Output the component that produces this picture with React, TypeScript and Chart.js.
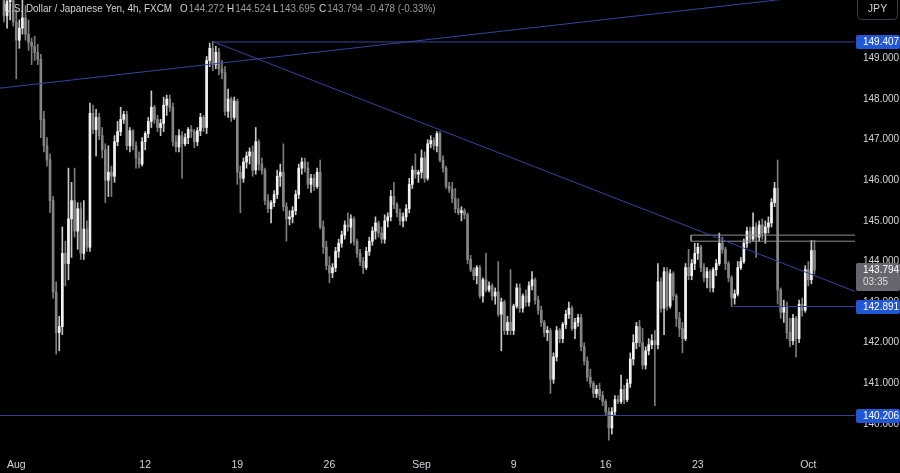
import React, { useEffect, useRef } from "react";
import { Chart, registerables } from "chart.js";
Chart.register(...registerables);

// ---- data ----
// [open, high, low, close] per 4h candle, USD/JPY (FXCM), Jul 31 -> Oct 1
const candles: [number, number, number, number][] = [
  [150.70, 150.95, 149.90, 150.05], [150.05, 150.60, 149.75, 150.40], [150.40, 150.90, 149.95, 150.55], [150.55, 150.80, 149.80, 149.90],
  [149.90, 150.20, 148.50, 149.45], [149.45, 149.95, 149.25, 149.75], [149.75, 150.45, 149.60, 150.00], [150.00, 150.30, 149.45, 149.60],
  [149.60, 149.95, 149.20, 149.40], [149.40, 149.50, 148.85, 149.30], [149.30, 149.55, 148.95, 149.15], [149.15, 149.35, 148.85, 148.98],
  [148.98, 149.10, 147.05, 147.50], [147.50, 147.70, 146.70, 146.85], [146.85, 147.05, 146.35, 146.50], [146.50, 146.65, 145.20, 145.50],
  [145.50, 145.60, 143.10, 143.25], [143.25, 143.50, 141.72, 142.25], [142.25, 142.65, 141.80, 142.40], [142.40, 144.85, 142.20, 144.20],
  [144.20, 144.50, 143.40, 143.95], [143.95, 146.30, 143.55, 145.05], [145.05, 145.95, 144.10, 145.50], [145.50, 146.30, 144.60, 144.75],
  [144.75, 145.45, 144.30, 145.30], [145.30, 145.45, 144.05, 144.20], [144.20, 145.50, 144.05, 144.80], [144.80, 145.00, 144.25, 144.35],
  [144.35, 147.90, 144.25, 147.65], [147.65, 147.85, 147.15, 147.25], [147.25, 147.75, 146.60, 147.55], [147.55, 147.65, 147.00, 147.10],
  [147.10, 147.30, 146.55, 146.75], [146.75, 146.90, 145.45, 146.00], [146.00, 146.85, 145.60, 146.20], [146.20, 146.35, 145.60, 146.10],
  [146.10, 147.10, 145.95, 146.95], [146.95, 147.45, 146.85, 147.20], [147.20, 147.80, 147.10, 147.50], [147.50, 147.70, 147.40, 147.62],
  [147.62, 147.70, 146.75, 146.85], [146.85, 147.30, 146.70, 147.22], [147.22, 147.25, 146.75, 146.85], [146.85, 146.95, 146.30, 146.55],
  [146.55, 146.70, 146.30, 146.40], [146.40, 147.05, 146.35, 146.95], [146.95, 147.20, 146.75, 147.15], [147.15, 147.55, 147.05, 147.45],
  [147.45, 148.20, 147.30, 147.80], [147.80, 147.85, 147.40, 147.50], [147.50, 147.60, 147.20, 147.30], [147.30, 147.50, 147.10, 147.40],
  [147.40, 148.05, 147.20, 147.85], [147.85, 148.10, 147.60, 148.00], [148.00, 148.10, 147.70, 147.80], [147.80, 147.90, 146.85, 146.95],
  [146.95, 147.10, 146.70, 146.82], [146.82, 147.25, 146.70, 147.10], [147.10, 147.20, 146.05, 146.90], [146.90, 147.15, 146.85, 147.05],
  [147.05, 147.30, 146.90, 147.25], [147.25, 147.35, 147.05, 147.20], [147.20, 147.25, 146.80, 146.95], [146.95, 147.30, 146.85, 147.22],
  [147.22, 147.65, 147.10, 147.55], [147.55, 147.60, 147.20, 147.30], [147.30, 149.05, 147.15, 148.95], [148.95, 149.38, 148.80, 149.25],
  [149.25, 149.42, 148.70, 148.85], [148.85, 149.30, 148.75, 149.15], [149.15, 149.25, 148.60, 148.75], [148.75, 148.95, 148.50, 148.65],
  [148.65, 148.80, 147.60, 147.70], [147.70, 148.25, 147.55, 148.00], [148.00, 148.05, 147.45, 147.55], [147.55, 148.05, 147.50, 147.95],
  [147.95, 148.00, 145.90, 146.20], [146.20, 146.35, 145.20, 146.05], [146.05, 146.55, 145.95, 146.45], [146.45, 146.70, 146.30, 146.60],
  [146.60, 146.80, 146.40, 146.70], [146.70, 146.85, 146.10, 146.25], [146.25, 147.30, 146.15, 146.95], [146.95, 147.00, 146.25, 146.40],
  [146.40, 146.55, 146.15, 146.25], [146.25, 146.30, 145.40, 145.50], [145.50, 145.65, 145.20, 145.30], [145.30, 145.50, 144.95, 145.45],
  [145.45, 145.75, 145.35, 145.65], [145.65, 146.25, 145.55, 146.10], [146.10, 146.40, 145.85, 146.20], [146.20, 146.90, 145.25, 145.35],
  [145.35, 145.45, 144.50, 145.05], [145.05, 145.25, 144.90, 145.10], [145.10, 145.35, 144.95, 145.25], [145.25, 145.75, 145.15, 145.65],
  [145.65, 146.40, 145.55, 146.30], [146.30, 146.55, 146.15, 146.45], [146.45, 146.55, 146.20, 146.30], [146.30, 146.45, 145.80, 145.90],
  [145.90, 146.15, 145.70, 146.05], [146.05, 146.15, 145.75, 145.85], [145.85, 146.30, 145.80, 146.20], [146.20, 146.50, 144.80, 144.85],
  [144.85, 145.00, 144.20, 144.35], [144.35, 144.50, 143.80, 143.90], [143.90, 144.12, 143.48, 143.72], [143.72, 143.95, 143.60, 143.85],
  [143.85, 144.35, 143.75, 144.25], [144.25, 144.55, 144.10, 144.45], [144.45, 144.75, 144.35, 144.65], [144.65, 145.00, 144.55, 144.90],
  [144.90, 145.20, 144.75, 144.85], [144.85, 145.15, 144.45, 145.05], [145.05, 145.10, 144.40, 144.50], [144.50, 144.55, 144.10, 144.20],
  [144.20, 144.30, 143.90, 144.00], [144.00, 144.10, 143.70, 143.85], [143.85, 144.35, 143.80, 144.25], [144.25, 144.60, 144.15, 144.50],
  [144.50, 144.85, 144.40, 144.75], [144.75, 145.10, 144.55, 144.95], [144.95, 145.00, 144.60, 144.70], [144.70, 144.85, 144.45, 144.55],
  [144.55, 145.15, 144.45, 145.00], [145.00, 145.20, 144.85, 145.10], [145.10, 145.75, 145.00, 145.60], [145.60, 145.95, 145.30, 145.40],
  [145.40, 145.45, 145.10, 145.20], [145.20, 145.30, 144.90, 145.00], [145.00, 145.20, 144.85, 145.10], [145.10, 145.40, 145.00, 145.30],
  [145.30, 146.05, 145.20, 145.90], [145.90, 146.35, 145.80, 146.25], [146.25, 146.65, 146.05, 146.15], [146.15, 146.25, 145.95, 146.20],
  [146.20, 146.75, 146.05, 146.55], [146.55, 146.70, 145.95, 146.05], [146.05, 147.00, 146.00, 146.90], [146.90, 147.10, 146.80, 146.98],
  [146.98, 147.05, 146.75, 146.85], [146.85, 147.20, 146.70, 147.15], [147.15, 147.20, 146.45, 146.50], [146.50, 146.60, 146.20, 146.30],
  [146.30, 146.35, 145.80, 145.85], [145.85, 145.95, 145.70, 145.78], [145.78, 145.95, 145.45, 145.55], [145.55, 145.80, 145.20, 145.30],
  [145.30, 145.55, 145.15, 145.20], [145.20, 145.35, 145.00, 145.25], [145.25, 145.30, 145.05, 145.15], [145.15, 145.20, 143.95, 144.05],
  [144.05, 144.15, 143.75, 143.80], [143.80, 143.85, 143.55, 143.65], [143.65, 143.90, 143.45, 143.85], [143.85, 143.90, 143.10, 143.15],
  [143.15, 143.60, 143.00, 143.55], [143.55, 144.20, 143.25, 143.30], [143.30, 143.50, 143.25, 143.40], [143.40, 143.45, 143.05, 143.15],
  [143.15, 143.35, 142.95, 143.25], [143.25, 144.00, 142.65, 142.70], [142.70, 143.10, 141.80, 143.00], [143.00, 143.05, 142.20, 142.30],
  [142.30, 142.65, 142.20, 142.50], [142.50, 143.80, 142.20, 142.30], [142.30, 142.95, 142.20, 142.90], [142.90, 143.45, 142.85, 143.35],
  [143.35, 143.45, 142.75, 142.85], [142.85, 143.20, 142.75, 143.15], [143.15, 143.30, 142.90, 143.00], [143.00, 143.50, 142.90, 143.40],
  [143.40, 143.75, 143.30, 143.55], [143.55, 143.60, 142.95, 143.05], [143.05, 143.15, 142.70, 142.80], [142.80, 142.90, 142.40, 142.50],
  [142.50, 142.55, 142.15, 142.25], [142.25, 142.40, 142.05, 142.30], [142.30, 142.35, 140.75, 141.10], [141.10, 141.75, 141.00, 141.65],
  [141.65, 142.40, 141.55, 142.30], [142.30, 142.35, 142.00, 142.10], [142.10, 142.50, 142.00, 142.45], [142.45, 142.80, 142.35, 142.70],
  [142.70, 143.00, 142.60, 142.85], [142.85, 142.90, 142.30, 142.35], [142.35, 142.60, 142.10, 142.50], [142.50, 142.70, 142.40, 142.62],
  [142.62, 142.70, 141.80, 141.90], [141.90, 142.00, 141.45, 141.55], [141.55, 141.65, 141.05, 141.15], [141.15, 141.35, 140.90, 141.00],
  [141.00, 141.05, 140.65, 140.75], [140.75, 140.95, 140.65, 140.85], [140.85, 141.00, 140.60, 140.70], [140.70, 140.80, 140.45, 140.55],
  [140.55, 140.60, 140.20, 140.30], [140.30, 140.40, 139.60, 139.90], [139.90, 140.40, 139.75, 140.30], [140.30, 140.70, 140.20, 140.60],
  [140.60, 140.70, 140.50, 140.55], [140.55, 141.20, 140.50, 140.85], [140.85, 140.95, 140.50, 140.60], [140.60, 141.10, 140.55, 141.00],
  [141.00, 141.75, 140.90, 141.60], [141.60, 142.20, 141.45, 142.00], [142.00, 142.50, 141.85, 142.40], [142.40, 142.55, 141.90, 142.00],
  [142.00, 142.35, 141.35, 141.45], [141.45, 141.90, 141.35, 141.80], [141.80, 142.10, 141.70, 141.95], [141.95, 142.20, 141.85, 142.05],
  [142.05, 142.30, 140.45, 141.95], [141.95, 143.95, 141.85, 143.50], [143.50, 143.60, 142.75, 142.85], [142.85, 143.85, 142.20, 143.75],
  [143.75, 143.85, 142.80, 142.90], [142.90, 143.80, 142.85, 143.70], [143.70, 143.75, 143.05, 143.15], [143.15, 143.20, 142.40, 142.60],
  [142.60, 142.75, 142.15, 142.35], [142.35, 142.50, 141.75, 142.10], [142.10, 143.95, 142.05, 143.85], [143.85, 144.30, 143.55, 143.65],
  [143.65, 144.05, 143.55, 143.95], [143.95, 144.45, 143.80, 144.20], [144.20, 144.45, 144.05, 144.35], [144.35, 144.40, 143.75, 143.85],
  [143.85, 143.95, 143.50, 143.60], [143.60, 143.85, 143.35, 143.75], [143.75, 143.80, 143.25, 143.35], [143.35, 143.85, 143.25, 143.80],
  [143.80, 144.05, 143.65, 143.95], [143.95, 144.70, 143.90, 144.45], [144.45, 144.60, 144.20, 144.30], [144.30, 144.35, 143.80, 143.95],
  [143.95, 144.00, 143.50, 143.60], [143.60, 143.65, 142.89, 143.10], [143.10, 143.30, 142.95, 143.20], [143.20, 144.00, 143.15, 143.85],
  [143.85, 144.10, 143.80, 144.00], [144.00, 144.55, 143.95, 144.45], [144.45, 144.85, 144.35, 144.75], [144.75, 144.85, 144.45, 144.55],
  [144.55, 145.20, 144.50, 144.85], [144.85, 144.95, 144.10, 144.60], [144.60, 145.00, 144.50, 144.90], [144.90, 145.05, 144.55, 144.70],
  [144.70, 145.00, 144.45, 144.85], [144.85, 145.10, 144.70, 144.95], [144.95, 145.55, 144.85, 145.45], [145.45, 145.95, 145.35, 145.80],
  [145.80, 146.50, 142.95, 143.30], [143.30, 143.35, 142.60, 142.75], [142.75, 143.05, 142.50, 142.90], [142.90, 143.00, 142.10, 142.25],
  [142.25, 142.60, 141.90, 142.05], [142.05, 142.70, 141.95, 142.60], [142.60, 142.65, 141.65, 142.10], [142.10, 143.05, 142.00, 142.95],
  [142.95, 143.10, 142.65, 142.80], [142.80, 143.90, 142.75, 143.80], [143.80, 144.00, 143.40, 143.55], [143.55, 144.52, 143.45, 144.27],
  [144.272, 144.524, 143.695, 143.794],
];

const dateTickIndex = [4, 46, 76, 106, 136, 166, 196, 226, 262];
const dateTickLabels = ["Aug", "12", "19", "26", "Sep", "9", "16", "23", "Oct"];
const priceTicks = [140, 141, 142, 143, 144, 145, 146, 147, 148, 149];

const resistanceLevel = 149.407;
const supportLevel = 140.206;
const swingLowLevel = 142.891;
const zoneTop = 144.65;
const zoneBottom = 144.5;
const lastPrice = 143.794;
const countdown = "03:35";

// drawings anchored in (candle index, price)
const risingTrend = [{ x: -1.3, y: 148.27 }, { x: 277.2, y: 150.66 }];
const fallingTrend = [{ x: 68.4, y: 149.407 }, { x: 277.2, y: 143.264 }];
const resistanceStart = 68.4;
const swingLowStart = 237.5;
const zoneStart = 223.8;

const legendTitle = "U.S. Dollar / Japanese Yen, 4h, FXCM";
const legendItems = [
  { k: "O", v: "144.272", x: 180 },
  { k: "H", v: "144.524", x: 227 },
  { k: "L", v: "143.695", x: 273 },
  { k: "C", v: "143.794", x: 319 },
];
const legendChange = "-0.478 (-0.33%)";

const X_MIN = -1.3;
const X_MAX = 277.2;
const Y_MIN = 139.456;
const Y_MAX = 150.441;

const FONT = "'Liberation Sans', Arial, sans-serif";
const BLUE_LINE = "#33449e";
const TAG_BLUE = "#2257d4";

export default function App() {
  const ref = useRef<HTMLCanvasElement>(null);

  useEffect(() => {
    document.body.style.margin = "0";
    document.body.style.background = "#000";
    const canvas = ref.current!;

    const up = (i: number) => candles[i][3] >= candles[i][0];

    const wickData = candles.map((c, i) => ({ x: i, y: [c[2], c[1]] }));
    const bodyData = candles.map((c, i) => {
      let lo = Math.min(c[0], c[3]);
      let hi = Math.max(c[0], c[3]);
      if (hi - lo < 0.03) {
        const m = (hi + lo) / 2;
        lo = m - 0.015;
        hi = m + 0.015;
      }
      return { x: i, y: [lo, hi] };
    });

    const lineDs = (data: { x: number; y: number }[], color: string) => ({
      type: "line" as const,
      data,
      borderColor: color,
      borderWidth: 1,
      pointRadius: 0,
      fill: false,
      tension: 0,
      order: 0,
      clip: 0,
    });

    const drawNarrow = (c: CanvasRenderingContext2D, text: string, x: number, y: number, sx: number) => {
      c.save();
      c.translate(x, y);
      c.scale(sx, 1);
      c.fillText(text, 0, 0);
      c.restore();
      return c.measureText(text).width * sx;
    };

    const decor = {
      id: "decor",
      beforeDraw(chart: any) {
        const c = chart.ctx;
        c.save();
        c.fillStyle = "#000";
        c.fillRect(0, 0, chart.width, chart.height);
        c.restore();
      },
      afterDraw(chart: any) {
        const c: CanvasRenderingContext2D = chart.ctx;
        const ys = chart.scales.y;
        const area = chart.chartArea;
        c.save();
        // legend
        c.textBaseline = "middle";
        c.textAlign = "left";
        c.font = `11px ${FONT}`;
        const sx = 168 / c.measureText(legendTitle).width;
        c.fillStyle = "#d1d4dc";
        drawNarrow(c, legendTitle, 4, 9, sx);
        legendItems.forEach((it) => {
          c.fillStyle = "#d1d4dc";
          const w = drawNarrow(c, it.k, it.x, 9, sx);
          c.fillStyle = "#9a9a9a";
          drawNarrow(c, it.v, it.x + w + 1, 9, sx);
        });
        c.fillStyle = "#9a9a9a";
        drawNarrow(c, legendChange, 367, 9, sx);

        // JPY button
        c.strokeStyle = "#3a3d45";
        c.lineWidth = 1;
        c.beginPath();
        (c as any).roundRect(857.5, -4.5, 40, 24, 4);
        c.stroke();
        c.fillStyle = "#d1d4dc";
        c.font = `10.5px ${FONT}`;
        c.textAlign = "center";
        c.fillText("JPY", 877.5, 9);
        c.textAlign = "left";

        // price tags
        const tag = (v: number) => {
          const y = Math.round(ys.getPixelForValue(v));
          c.fillStyle = TAG_BLUE;
          c.beginPath();
          (c as any).roundRect(area.right + 1, y - 7, 44, 14, 2);
          c.fill();
          c.fillStyle = "#ffffff";
          c.font = `10px ${FONT}`;
          c.fillText(v.toFixed(3), area.right + 8, y + 0.5);
        };
        tag(resistanceLevel);
        tag(swingLowLevel);
        tag(supportLevel);

        // last price box
        const yl = Math.round(ys.getPixelForValue(lastPrice));
        c.fillStyle = "#66676e";
        c.beginPath();
        (c as any).roundRect(area.right + 1, yl - 7, 44, 28, 2);
        c.fill();
        c.fillStyle = "#ffffff";
        c.font = `10px ${FONT}`;
        c.fillText(lastPrice.toFixed(3), area.right + 8, yl + 0.5);
        c.fillStyle = "#dddddd";
        c.fillText(countdown, area.right + 8, yl + 12.5);
        c.restore();
      },
    };

    const chart = new Chart(canvas, {
      type: "bar",
      data: {
        datasets: [
          lineDs(risingTrend, BLUE_LINE),
          lineDs(fallingTrend, BLUE_LINE),
          lineDs([{ x: resistanceStart, y: resistanceLevel }, { x: X_MAX, y: resistanceLevel }], BLUE_LINE),
          lineDs([{ x: X_MIN, y: supportLevel }, { x: X_MAX, y: supportLevel }], BLUE_LINE),
          lineDs([{ x: swingLowStart, y: swingLowLevel }, { x: X_MAX, y: swingLowLevel }], BLUE_LINE),
          lineDs(
            [
              { x: X_MAX, y: zoneTop },
              { x: zoneStart, y: zoneTop },
              { x: zoneStart, y: zoneBottom },
              { x: X_MAX, y: zoneBottom },
            ],
            "#8e8e8e"
          ),
          {
            type: "bar" as const,
            data: wickData as any,
            backgroundColor: (ctx: any) => (up(ctx.dataIndex) ? "#c8c8c8" : "#7c7c7c"),
            barThickness: 1,
            grouped: false,
            borderWidth: 0,
            order: 2,
          },
          {
            type: "bar" as const,
            data: bodyData as any,
            backgroundColor: (ctx: any) => (up(ctx.dataIndex) ? "#f2f2f2" : "#858585"),
            barThickness: 2,
            grouped: false,
            borderWidth: 0,
            order: 1,
          },
        ] as any,
      },
      options: {
        responsive: false,
        animation: false,
        devicePixelRatio: 1,
        layout: { padding: 0 },
        plugins: { legend: { display: false }, tooltip: { enabled: false } },
        scales: {
          x: {
            type: "linear",
            min: X_MIN,
            max: X_MAX,
            bounds: "data",
            offset: false,
            grid: { display: false, drawTicks: false },
            border: { display: false },
            ticks: {
              autoSkip: false,
              maxRotation: 0,
              padding: 13,
              color: "#d1d4dc",
              font: { family: FONT, size: 10.5 },
              callback: (v: any) => {
                const k = dateTickIndex.indexOf(Number(v));
                return k >= 0 ? dateTickLabels[k] : "";
              },
            },
            afterBuildTicks: (s: any) => {
              s.ticks = dateTickIndex.map((v) => ({ value: v }));
            },
            afterFit: (s: any) => {
              s.height = 27;
              s.paddingLeft = 0;
              s.paddingRight = 0;
              s.paddingTop = 0;
              s.paddingBottom = 0;
            },
          },
          y: {
            position: "right",
            min: Y_MIN,
            max: Y_MAX,
            bounds: "data",
            grid: { display: false, drawTicks: false },
            border: { display: false },
            ticks: {
              padding: 8,
              color: "#d6d6d6",
              font: { family: FONT, size: 10 },
              callback: (v: any) => Number(v).toFixed(3),
            },
            afterBuildTicks: (s: any) => {
              s.ticks = priceTicks.map((v) => ({ value: v }));
            },
            afterFit: (s: any) => {
              s.width = 45;
              s.paddingLeft = 0;
              s.paddingRight = 0;
              s.paddingTop = 0;
              s.paddingBottom = 0;
            },
          },
        },
      } as any,
      plugins: [decor],
    });

    return () => chart.destroy();
  }, []);

  return (
    <div style={{ width: 900, height: 473, background: "#000" }}>
      <canvas ref={ref} width={900} height={473} style={{ display: "block" }} />
    </div>
  );
}
